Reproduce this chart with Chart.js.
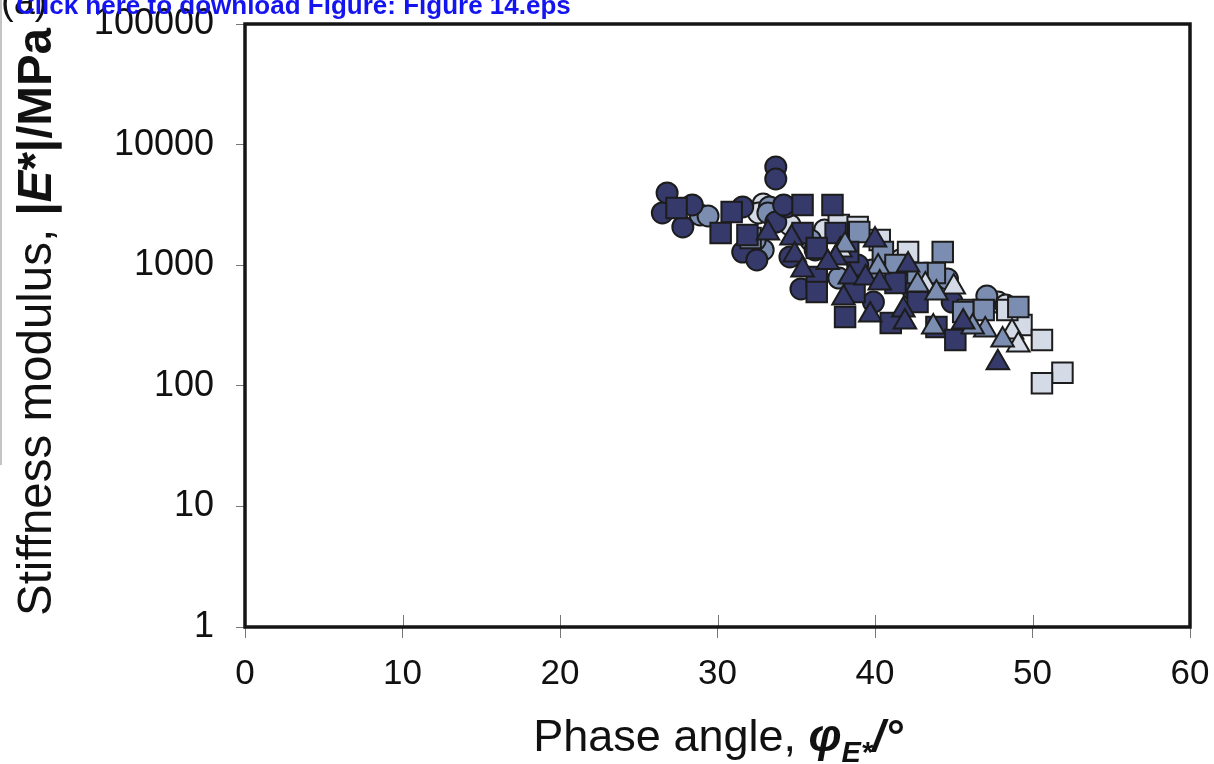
<!DOCTYPE html>
<html><head><meta charset="utf-8">
<script src="https://cdn.jsdelivr.net/npm/chart.js@4.4.1/dist/chart.umd.min.js"></script>
<style>html,body{margin:0;padding:0;background:#fff;overflow:hidden}canvas{display:block}</style>
</head><body><canvas id="c" width="1214" height="764"></canvas>
<script>
// ---- data (phase angle in degrees, stiffness modulus in MPa) ----
const yTickValues = [1, 10, 100, 1000, 10000, 100000];
const xTickStep = 10;

const darkCirclePhase   = [26.8, 26.5, 28.4, 27.8, 33.7, 33.7, 31.6, 31.6, 32.5, 33.7, 34.4, 35.3, 39.9, 44.9, 34.6, 36.2, 38.9, 42.4, 34.2];
const darkCircleModulus = [3970, 2710, 3160, 2075, 6520, 5190, 3040, 1286, 1105, 2280, 3040, 635, 495, 495, 1170, 1337, 1004, 623, 3160];

const midCirclePhase   = [28.9, 29.4, 33.3, 33.2, 32.9, 32.4, 44.6, 47.1, 37.7, 35.9, 39.8];
const midCircleModulus = [2610, 2560, 3040, 2710, 1337, 1618, 769, 555, 783, 1618, 912];

const lightCirclePhase   = [32.9, 32.6, 34.6, 47.8, 48.3, 36.8, 41.6];
const lightCircleModulus = [3217, 2710, 2155, 495, 468, 1959, 1105];

const darkSquarePhase   = [27.4, 30.9, 30.2, 31.9, 35.4, 37.3, 35.4, 37.5, 36.3, 38.3, 36.3, 36.3, 38.7, 38.1, 41.0, 41.3, 42.7, 43.9, 45.1];
const darkSquareModulus = [2980, 2760, 1849, 1780, 3160, 3160, 1849, 1849, 1389, 1286, 798, 600, 600, 372, 332, 712, 495, 307, 240];

const midSquarePhase   = [39.0, 40.5, 44.3, 43.8, 49.1, 46.9, 32.1, 42.7, 41.3, 45.6];
const midSquareModulus = [1884, 1286, 1286, 861, 450, 425, 1682, 861, 1004, 409];

const lightSquarePhase   = [42.1, 37.7, 38.9, 49.3, 50.6, 51.9, 50.6, 48.4, 45.9, 40.3];
const lightSquareModulus = [1286, 2155, 2075, 319, 240, 128, 105, 425, 425, 1618];

const darkTrianglePhase   = [33.2, 34.7, 34.9, 35.4, 37.5, 37.0, 38.4, 39.4, 40.0, 40.3, 38.0, 39.7, 41.8, 42.1, 41.9, 45.6, 47.8];
const darkTriangleModulus = [1849, 1682, 1216, 912, 1148, 1051, 798, 783, 1618, 712, 535, 386, 425, 1004, 338, 338, 155];

const midTrianglePhase   = [43.9, 40.2, 47.0, 48.1, 46.2, 43.7, 42.7, 38.1];
const midTriangleModulus = [588, 966, 290, 240, 307, 307, 685, 1470];

const lightTrianglePhase   = [48.7, 49.1, 45.0, 43.2, 37.8];
const lightTriangleModulus = [279, 218, 660, 685, 1337];

// ---- styling ----
const DARK = '#353a6b', MID = '#7b8db0', LIGHT = '#d4dbe6', EDGE = '#1c1c1c';
const pts = (xs, ys) => xs.map((x, i) => ({x: x, y: ys[i]}));
function ds(label, xs, ys, color, style, r) {
  return {label, data: pts(xs, ys), backgroundColor: color, borderColor: EDGE,
    borderWidth: 2, pointStyle: style, pointRadius: r, pointHoverRadius: r};
}
// first dataset is drawn on top
const datasets = [
  ds('dark triangle', darkTrianglePhase, darkTriangleModulus, DARK, 'triangle', 13),
  ds('mid triangle', midTrianglePhase, midTriangleModulus, MID, 'triangle', 13),
  ds('light triangle', lightTrianglePhase, lightTriangleModulus, LIGHT, 'triangle', 13),
  ds('dark square', darkSquarePhase, darkSquareModulus, DARK, 'rect', 14.5),
  ds('mid square', midSquarePhase, midSquareModulus, MID, 'rect', 14.5),
  ds('light square', lightSquarePhase, lightSquareModulus, LIGHT, 'rect', 14.5),
  ds('dark circle', darkCirclePhase, darkCircleModulus, DARK, 'circle', 10.5),
  ds('mid circle', midCirclePhase, midCircleModulus, MID, 'circle', 10.5),
  ds('light circle', lightCirclePhase, lightCircleModulus, LIGHT, 'circle', 10.5)
];

const FONT = "'Liberation Sans', Arial, Helvetica, sans-serif";

function drawSegments(ctx, segs, x, y) {
  let cx = x;
  for (const s of segs) {
    ctx.font = s.font;
    ctx.fillText(s.text, cx, y + (s.dy || 0));
    cx += ctx.measureText(s.text).width;
  }
  return cx;
}
function segWidth(ctx, segs) {
  let w = 0;
  for (const s of segs) { ctx.font = s.font; w += ctx.measureText(s.text).width; }
  return w;
}

const decor = {
  id: 'decor',
  afterDraw(chart) {
    const ctx = chart.ctx, a = chart.chartArea;
    const xs = chart.scales.x;
    ctx.save();
    // inner part of x tick marks
    ctx.strokeStyle = '#777'; ctx.lineWidth = 1;
    xs.ticks.forEach(t => {
      const px = Math.round(xs.getPixelForValue(t.value)) + 0.5;
      ctx.beginPath(); ctx.moveTo(px, a.bottom - 12); ctx.lineTo(px, a.bottom); ctx.stroke();
    });
    // frame
    ctx.strokeStyle = '#151515'; ctx.lineWidth = 3.5;
    ctx.strokeRect(a.left, a.top, a.right - a.left, a.bottom - a.top);

    ctx.fillStyle = '#111';
    ctx.textBaseline = 'alphabetic';
    ctx.textAlign = 'left';
    // x axis title
    const xSegs = [
      {text: 'Phase angle, ', font: '45px ' + FONT},
      {text: 'φ', font: 'italic bold 47px ' + FONT},
      {text: 'E*', font: 'italic bold 29px ' + FONT, dy: 11},
      {text: '/°', font: 'italic bold 45px ' + FONT}
    ];
    const xw = segWidth(ctx, xSegs);
    drawSegments(ctx, xSegs, 718 - xw / 2, 751);
    // y axis title
    const ySegs = [
      {text: 'Stiffness modulus, ', font: '47.5px ' + FONT},
      {text: '|', font: 'bold 47.5px ' + FONT},
      {text: 'E', font: 'italic bold 47.5px ' + FONT},
      {text: '*|/MPa', font: 'bold 47.5px ' + FONT}
    ];
    const yw = segWidth(ctx, ySegs);
    ctx.save();
    ctx.translate(51, 322);
    ctx.rotate(-Math.PI / 2);
    drawSegments(ctx, ySegs, -yw / 2, 0);
    ctx.restore();

    // left page edge line
    ctx.strokeStyle = '#c4c4c4'; ctx.lineWidth = 2;
    ctx.beginPath(); ctx.moveTo(1, 0); ctx.lineTo(1, 465); ctx.stroke();
    // panel label and download link
    ctx.fillStyle = '#111';
    ctx.font = '38px ' + FONT;
    ctx.fillText('(a)', 1, 14);
    ctx.fillStyle = '#1414f0';
    ctx.font = 'bold 26px ' + FONT;
    ctx.fillText('Click here to download Figure: Figure 14.eps', 16, 14);
    ctx.restore();
  }
};

new Chart(document.getElementById('c').getContext('2d'), {
  type: 'scatter',
  data: {datasets},
  options: {
    responsive: false,
    devicePixelRatio: 1,
    animation: false,
    events: [],
    layout: {padding: {top: 24, right: 24, left: 0, bottom: 0}},
    plugins: {legend: {display: false}, tooltip: {enabled: false}},
    scales: {
      x: {
        type: 'linear', min: 0, max: 60,
        ticks: {stepSize: xTickStep, color: '#111', font: {family: FONT, size: 35}, padding: 15, maxRotation: 0},
        grid: {drawOnChartArea: false, drawTicks: true, tickLength: 11, color: '#777', lineWidth: 1},
        border: {display: false},
        afterFit(s) { s.height = 137; s.paddingLeft = 0; s.paddingRight = 0; }
      },
      y: {
        type: 'logarithmic', min: 1, max: 100000,
        afterBuildTicks(s) { s.ticks = yTickValues.map(v => ({value: v})); },
        ticks: {color: '#111', font: {family: FONT, size: 36}, padding: 22,
          callback: v => String(v)},
        grid: {drawOnChartArea: false, drawTicks: true, tickLength: 9, color: '#777', lineWidth: 1},
        border: {display: false},
        afterFit(s) { s.width = 245; s.paddingTop = 0; s.paddingBottom = 0; }
      }
    }
  },
  plugins: [decor]
});
</script>
</body></html>
